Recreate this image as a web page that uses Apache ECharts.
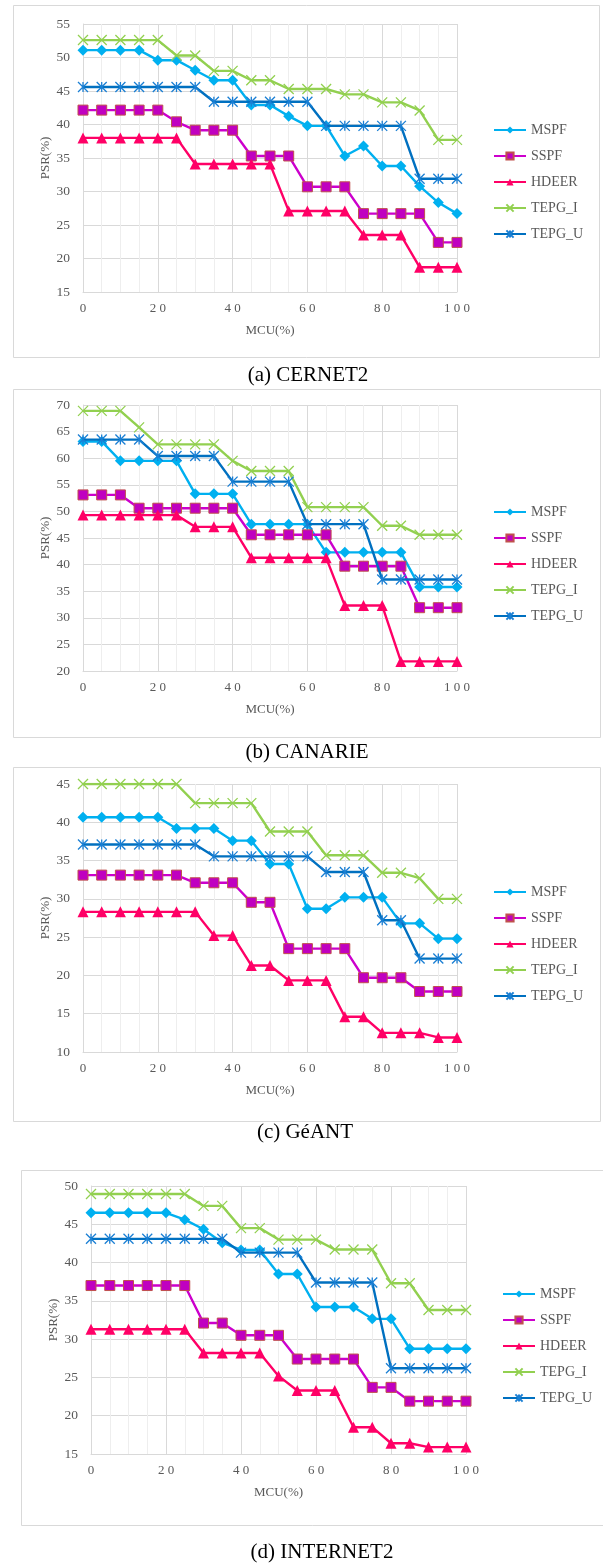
<!DOCTYPE html>
<html>
<head>
<meta charset="utf-8">
<script src="https://cdn.jsdelivr.net/npm/echarts@6/dist/echarts.min.js"></script>
<style>
  html, body { margin: 0; padding: 0; background: #fff; }
  #chart { width: 603px; height: 1565px; }
</style>
</head>
<body>
<div id="chart"></div>
<script>
// MCU levels (%) shared by every panel
const mcu = [0, 5, 10, 15, 20, 25, 30, 35, 40, 45, 50, 55, 60, 65, 70, 75, 80, 85, 90, 95, 100];
const methodNames = ['MSPF', 'SSPF', 'HDEER', 'TEPG_I', 'TEPG_U'];

// (a) CERNET2 — PSR (%)
const cernet2MSPF  = [51.1, 51.1, 51.1, 51.1, 49.6, 49.6, 48.1, 46.6, 46.6, 42.9, 42.9, 41.25, 39.8, 39.8, 35.3, 36.8, 33.8, 33.8, 30.8, 28.35, 26.7];
const cernet2SSPF  = [42.15, 42.15, 42.15, 42.15, 42.15, 40.4, 39.15, 39.15, 39.15, 35.3, 35.3, 35.3, 30.7, 30.7, 30.7, 26.7, 26.7, 26.7, 26.7, 22.4, 22.4];
const cernet2HDEER = [38.0, 38.0, 38.0, 38.0, 38.0, 38.0, 34.1, 34.1, 34.1, 34.1, 34.1, 27.1, 27.1, 27.1, 27.1, 23.5, 23.5, 23.5, 18.7, 18.7, 18.7];
const cernet2TEPGI = [52.6, 52.6, 52.6, 52.6, 52.6, 50.3, 50.3, 48.0, 48.0, 46.6, 46.6, 45.3, 45.3, 45.3, 44.5, 44.5, 43.3, 43.3, 42.1, 37.7, 37.7];
const cernet2TEPGU = [45.6, 45.6, 45.6, 45.6, 45.6, 45.6, 45.6, 43.4, 43.4, 43.4, 43.4, 43.4, 43.4, 39.8, 39.8, 39.8, 39.8, 39.8, 31.9, 31.9, 31.9];

// (b) CANARIE — PSR (%)
const canarieMSPF  = [63.15, 63.15, 59.5, 59.5, 59.5, 59.5, 53.3, 53.3, 53.3, 47.6, 47.6, 47.6, 47.6, 42.3, 42.3, 42.3, 42.3, 42.3, 35.8, 35.8, 35.8];
const canarieSSPF  = [53.1, 53.1, 53.1, 50.6, 50.6, 50.6, 50.6, 50.6, 50.6, 45.6, 45.6, 45.6, 45.6, 45.6, 39.7, 39.7, 39.7, 39.7, 31.9, 31.9, 31.9];
const canarieHDEER = [49.3, 49.3, 49.3, 49.3, 49.3, 49.3, 47.1, 47.1, 47.1, 41.3, 41.3, 41.3, 41.3, 41.3, 32.3, 32.3, 32.3, 21.8, 21.8, 21.8, 21.8];
const canarieTEPGI = [68.9, 68.9, 68.9, 65.8, 62.6, 62.6, 62.6, 62.6, 59.5, 57.6, 57.6, 57.6, 50.8, 50.8, 50.8, 50.8, 47.3, 47.3, 45.6, 45.6, 45.6];
const canarieTEPGU = [63.5, 63.5, 63.5, 63.5, 60.4, 60.4, 60.4, 60.4, 55.6, 55.6, 55.6, 55.6, 47.6, 47.6, 47.6, 47.6, 37.2, 37.2, 37.2, 37.2, 37.2];

// (c) GéANT — PSR (%)
const geantMSPF  = [40.65, 40.65, 40.65, 40.65, 40.65, 39.2, 39.2, 39.2, 37.6, 37.6, 34.55, 34.55, 28.7, 28.7, 30.2, 30.2, 30.2, 26.8, 26.8, 24.8, 24.8];
const geantSSPF  = [33.1, 33.1, 33.1, 33.1, 33.1, 33.1, 32.1, 32.1, 32.1, 29.55, 29.55, 23.5, 23.5, 23.5, 23.5, 19.7, 19.7, 19.7, 17.9, 17.9, 17.9];
const geantHDEER = [28.3, 28.3, 28.3, 28.3, 28.3, 28.3, 28.3, 25.2, 25.2, 21.3, 21.3, 19.35, 19.35, 19.35, 14.6, 14.6, 12.5, 12.5, 12.5, 11.9, 11.9];
const geantTEPGI = [45.0, 45.0, 45.0, 45.0, 45.0, 45.0, 42.5, 42.5, 42.5, 42.5, 38.8, 38.8, 38.8, 35.7, 35.7, 35.7, 33.4, 33.4, 32.7, 30.0, 30.0];
const geantTEPGU = [37.1, 37.1, 37.1, 37.1, 37.1, 37.1, 37.1, 35.55, 35.55, 35.55, 35.55, 35.55, 35.55, 33.5, 33.5, 33.5, 27.2, 27.2, 22.2, 22.2, 22.2];

// (d) INTERNET2 — PSR (%)
const internet2MSPF  = [46.5, 46.5, 46.5, 46.5, 46.5, 45.6, 44.35, 42.6, 41.65, 41.65, 38.5, 38.5, 34.2, 34.2, 34.2, 32.65, 32.65, 28.75, 28.75, 28.75, 28.75];
const internet2SSPF  = [37.0, 37.0, 37.0, 37.0, 37.0, 37.0, 32.1, 32.1, 30.5, 30.5, 30.5, 27.4, 27.4, 27.4, 27.4, 23.7, 23.7, 21.9, 21.9, 21.9, 21.9];
const internet2HDEER = [31.3, 31.3, 31.3, 31.3, 31.3, 31.3, 28.2, 28.2, 28.2, 28.2, 25.2, 23.3, 23.3, 23.3, 18.5, 18.5, 16.4, 16.4, 15.9, 15.9, 15.9];
const internet2TEPGI = [48.95, 48.95, 48.95, 48.95, 48.95, 48.95, 47.4, 47.4, 44.5, 44.5, 43.0, 43.0, 43.0, 41.7, 41.7, 41.7, 37.3, 37.3, 33.8, 33.8, 33.8];
const internet2TEPGU = [43.1, 43.1, 43.1, 43.1, 43.1, 43.1, 43.1, 43.1, 41.3, 41.3, 41.3, 41.3, 37.4, 37.4, 37.4, 37.4, 26.2, 26.2, 26.2, 26.2, 26.2];

// Panel captions and y-axis ranges
const captions = ['(a) CERNET2', '(b) CANARIE', '(c) GéANT', '(d) INTERNET2'];
const yMins = [15, 20, 10, 15];
const yMaxs = [55, 70, 45, 50];
const panelValues = [
  [cernet2MSPF, cernet2SSPF, cernet2HDEER, cernet2TEPGI, cernet2TEPGU],
  [canarieMSPF, canarieSSPF, canarieHDEER, canarieTEPGI, canarieTEPGU],
  [geantMSPF, geantSSPF, geantHDEER, geantTEPGI, geantTEPGU],
  [internet2MSPF, internet2SSPF, internet2HDEER, internet2TEPGI, internet2TEPGU]
];

// Layout of each panel (pixels)
const layout = [
  { grid: { left: 83, top: 24, width: 374, height: 268 }, frame: { x: 13.5, y: 5.5, w: 586, h: 352 }, cap: { x: 308, y: 375 }, legend: { left: 493, top: 123 } },
  { grid: { left: 83, top: 405, width: 374, height: 266 }, frame: { x: 13.5, y: 389.5, w: 587, h: 348 }, cap: { x: 307, y: 752 }, legend: { left: 493, top: 505 } },
  { grid: { left: 83, top: 784, width: 374, height: 268 }, frame: { x: 13.5, y: 767.5, w: 587, h: 354 }, cap: { x: 305, y: 1132 }, legend: { left: 493, top: 885 } },
  { grid: { left: 91, top: 1186, width: 375, height: 268 }, frame: { x: 21.5, y: 1170.5, w: 590, h: 355 }, cap: { x: 322, y: 1552 }, legend: { left: 502, top: 1287 } }
];

const serif = "'Liberation Serif', 'Times New Roman', serif";
const axisGrey = '#595959';
const gridGrey = '#D9D9D9';

// Marker styling per method
const markStyles = {
  MSPF:   { line: '#00B0F0', symbol: 'diamond', size: 11, item: { color: '#00B0F0' } },
  SSPF:   { line: '#CC00CC', symbol: 'rect', size: 10, item: { color: '#C000C0', borderColor: '#C0504D', borderWidth: 1 } },
  HDEER:  { line: '#FF0066', symbol: 'triangle', size: 11, item: { color: '#FF0066' } },
  TEPG_I: { line: '#92D050', symbol: 'path://M0,0L10,10M10,0L0,10', size: 10, item: { color: 'rgba(0,0,0,0)', borderColor: '#92D050', borderWidth: 1.3 } },
  TEPG_U: { line: '#0070C0', symbol: 'path://M5,0L5,10M0,0L10,10M10,0L0,10', size: 10, item: { color: 'rgba(0,0,0,0)', borderColor: '#1A7FD4', borderWidth: 1.3 } }
};

const spaced = v => String(v).split('').join(' ');

const grids = [], xAxes = [], yAxes = [], legends = [], series = [], graphics = [];

layout.forEach((p, i) => {
  grids.push(Object.assign({ containLabel: false }, p.grid));
  xAxes.push({
    type: 'value', gridIndex: i, min: 0, max: 100, interval: 20,
    name: 'MCU(%)', nameLocation: 'middle', nameGap: 32, nameMoveOverlap: false,
    nameTextStyle: { fontFamily: serif, fontSize: 13, color: axisGrey },
    axisLine: { show: true, lineStyle: { color: gridGrey, width: 1 } },
    axisTick: { show: false },
    axisLabel: { fontFamily: serif, fontSize: 13, color: axisGrey, margin: 10, formatter: spaced },
    splitLine: { show: true, lineStyle: { color: gridGrey, width: 1 } },
    minorTick: { show: false, splitNumber: 4 },
    minorSplitLine: { show: true, lineStyle: { color: '#EEEEEE', width: 1 } }
  });
  yAxes.push({
    type: 'value', gridIndex: i, min: yMins[i], max: yMaxs[i], interval: 5,
    name: 'PSR(%)', nameLocation: 'middle', nameGap: 31, nameRotate: 90, nameMoveOverlap: false,
    nameTextStyle: { fontFamily: serif, fontSize: 13, color: axisGrey },
    axisLine: { show: true, lineStyle: { color: gridGrey, width: 1 } },
    axisTick: { show: false },
    axisLabel: { fontFamily: serif, fontSize: 13.5, color: axisGrey, margin: 13 },
    splitLine: { show: true, lineStyle: { color: gridGrey, width: 1 } }
  });
  legends.push({
    orient: 'vertical', left: p.legend.left, top: p.legend.top,
    itemWidth: 32, itemHeight: 9, itemGap: 12, padding: 0,
    data: methodNames,
    textStyle: { fontFamily: serif, fontSize: 14, color: axisGrey },
    selectedMode: false
  });
  methodNames.forEach((name, k) => {
    const st = markStyles[name];
    series.push({
      name, type: 'line', xAxisIndex: i, yAxisIndex: i,
      data: mcu.map((x, j) => [x, panelValues[i][k][j]]),
      symbol: st.symbol, symbolSize: st.size, showSymbol: true,
      lineStyle: { color: st.line, width: 2.4 },
      itemStyle: st.item,
      color: st.line,
      z: 2 + k
    });
  });
  graphics.push({
    type: 'rect', shape: { x: p.frame.x, y: p.frame.y, width: p.frame.w, height: p.frame.h },
    style: { fill: 'none', stroke: gridGrey, lineWidth: 1 }, z: -1, silent: true
  });
  graphics.push({
    type: 'text', x: p.cap.x, y: p.cap.y,
    style: { text: captions[i], font: "21px 'Liberation Serif', 'Times New Roman', serif", fill: '#000', align: 'center', verticalAlign: 'middle' },
    silent: true
  });
});

const chart = echarts.init(document.getElementById('chart'));
chart.setOption({
  animation: false,
  backgroundColor: '#fff',
  grid: grids,
  xAxis: xAxes,
  yAxis: yAxes,
  legend: legends,
  series,
  graphic: graphics
});
</script>
</body>
</html>
